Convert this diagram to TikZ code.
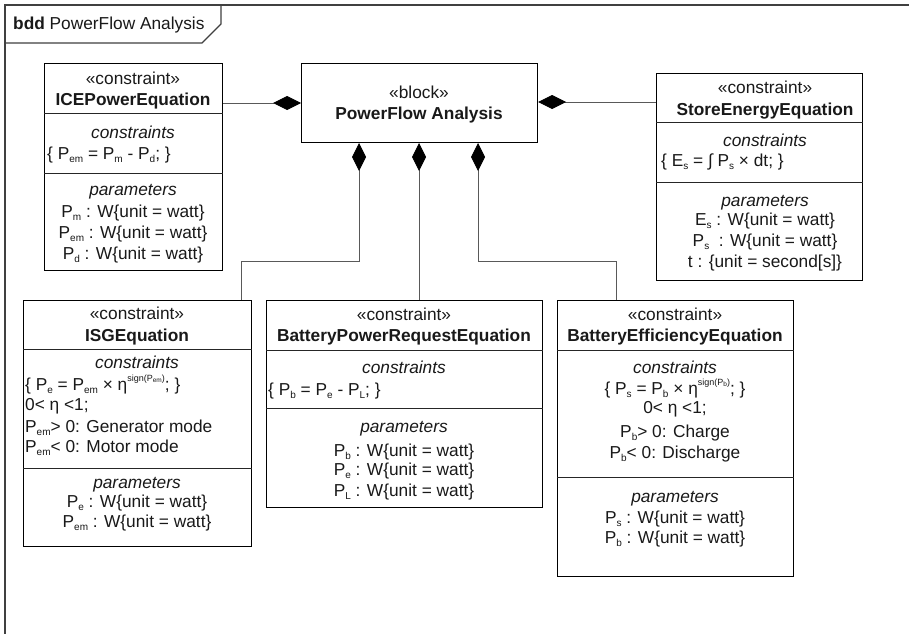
\documentclass[tikz,border=0pt]{standalone}
\usepackage{fontspec}
\setmainfont{Liberation Sans}
\usetikzlibrary{arrows.meta}
\newcommand\dn[1]{\raisebox{-0.35ex}{\fontsize{10}{10}\selectfont #1}}
\newcommand\up[1]{\raisebox{0.95ex}{\fontsize{9}{9}\selectfont #1}}
\newcommand\ddn[1]{\raisebox{-0.3ex}{\fontsize{6.5}{6.5}\selectfont #1}}
\begin{document}
\begin{tikzpicture}[x=1pt,y=-1pt,
  font=\fontsize{17.3}{21}\selectfont,
  box/.style={draw=black, line width=1pt, inner sep=0pt, anchor=north west, fill=white},
  txt/.style={anchor=base, inner sep=0pt, text=black!90},
  ltxt/.style={anchor=base west, inner sep=0pt, text=black!90},
  divider/.style={draw=black!85, line width=0.9pt},
  link/.style={draw=black!65, line width=0.9pt},
  comp/.style={-{Diamond[length=28pt,width=14pt,black]}},
  frame/.style={draw=black!75, line width=1.1pt}]
\useasboundingbox (0,0) rectangle (909,634);
\fill[white] (0,0) rectangle (909,634);
% frame
\draw[frame] (909,5) -- (5,5) -- (5,634);
\draw[frame] (5,43) -- (202,43) -- (221,24) -- (221,5);
\node[ltxt] (title) at (13,30) {\textbf{bdd} PowerFlow Analysis};
% boxes
\node[box, minimum width=178pt, minimum height=207pt] (ice) at (44,63) {};
\node[box, minimum width=236pt, minimum height=79pt] (blk) at (301,63) {};
\node[box, minimum width=206pt, minimum height=207pt] (se) at (656,73) {};
\node[box, minimum width=228pt, minimum height=246pt] (isg) at (23,300) {};
\node[box, minimum width=276pt, minimum height=207pt] (bpr) at (266,300) {};
\node[box, minimum width=236pt, minimum height=276pt] (bee) at (557,300) {};
% dividers
\draw[divider] (ice.west |- 0,113) -- (ice.east |- 0,113);
\draw[divider] (ice.west |- 0,173) -- (ice.east |- 0,173);
\draw[divider] (se.west |- 0,122) -- (se.east |- 0,122);
\draw[divider] (se.west |- 0,182) -- (se.east |- 0,182);
\draw[divider] (isg.west |- 0,349) -- (isg.east |- 0,349);
\draw[divider] (isg.west |- 0,468) -- (isg.east |- 0,468);
\draw[divider] (bpr.west |- 0,350) -- (bpr.east |- 0,350);
\draw[divider] (bpr.west |- 0,408) -- (bpr.east |- 0,408);
\draw[divider] (bee.west |- 0,350) -- (bee.east |- 0,350);
\draw[divider] (bee.west |- 0,477) -- (bee.east |- 0,477);
% connectors
\draw[link,comp] (ice.east |- 0,103) -- (blk.west |- 0,103);
\draw[link,comp] (se.west |- 0,102) -- (blk.east |- 0,102);
\draw[link,comp] (isg.north -| 241,0) -- (241,261) -| (blk.south -| 359,0);
\draw[link,comp] (bpr.north -| 419,0) -- (blk.south -| 419,0);
\draw[link,comp] (bee.north -| 616,0) -- (616,261) -| (blk.south -| 478,0);
% ICE
\node[txt] (ice1) at (133,84) {«constraint»};
\node[txt] (ice2) at (133,105) {\textbf{ICEPowerEquation}};
\node[txt] (ice3) at (133,138) {\textit{constraints}};
\node[ltxt] (ice4) at (47,159) {\{ P\dn{em} = P\dn{m} - P\dn{d}; \}};
\node[txt] (ice5) at (133,195) {\textit{parameters}};
\node[txt] (ice6) at (133,217) {P\dn{m} : W\{unit = watt\}};
\node[txt] (ice7) at (133,238) {P\dn{em} : W\{unit = watt\}};
\node[txt] (ice8) at (133,259) {P\dn{d} : W\{unit = watt\}};
% block
\node[txt] (blk1) at (419,98) {«block»};
\node[txt] (blk2) at (419,119) {\textbf{PowerFlow Analysis}};
% StoreEnergy
\node[txt] (se1) at (765,93) {«constraint»};
\node[txt] (se2) at (765,115) {\textbf{StoreEnergyEquation}};
\node[txt] (se3) at (765,146) {\textit{constraints}};
\node[ltxt] (se4) at (661,166) {\{ E\dn{s} = ∫ P\dn{s} × dt; \}};
\node[txt] (se5) at (765,206) {\textit{parameters}};
\node[txt] (se6) at (765,225) {E\dn{s} : W\{unit = watt\}};
\node[txt] (se7) at (765,246) {P\dn{s} \ : W\{unit = watt\}};
\node[txt] (se8) at (765,267) {t : \{unit = second[s]\}};
% ISG
\node[txt] (isg1) at (137,319) {«constraint»};
\node[txt] (isg2) at (137,341) {\textbf{ISGEquation}};
\node[txt] (isg3) at (137,368) {\textit{constraints}};
\node[ltxt] (isg4) at (25,390) {\{ P\dn{e} = P\dn{em} × η\up{sign(P\ddn{em})}; \}};
\node[ltxt] (isg5) at (25,410) {0< η <1;};
\node[ltxt] (isg6) at (25,432) {P\dn{em}> 0: Generator mode};
\node[ltxt] (isg7) at (25,452) {P\dn{em}< 0: Motor mode};
\node[txt] (isg8) at (137,488) {\textit{parameters}};
\node[txt] (isg9) at (137,507) {P\dn{e} : W\{unit = watt\}};
\node[txt] (isg10) at (137,527) {P\dn{em} : W\{unit = watt\}};
% BPR
\node[txt] (bpr1) at (404,320) {«constraint»};
\node[txt] (bpr2) at (404,341) {\textbf{BatteryPowerRequestEquation}};
\node[txt] (bpr3) at (404,373) {\textit{constraints}};
\node[ltxt] (bpr4) at (268,395) {\{ P\dn{b} = P\dn{e} - P\dn{L}; \}};
\node[txt] (bpr5) at (404,432) {\textit{parameters}};
\node[txt] (bpr6) at (404,456) {P\dn{b} : W\{unit = watt\}};
\node[txt] (bpr7) at (404,475) {P\dn{e} : W\{unit = watt\}};
\node[txt] (bpr8) at (404,496) {P\dn{L} : W\{unit = watt\}};
% BEE
\node[txt] (bee1) at (675,320) {«constraint»};
\node[txt] (bee2) at (675,341) {\textbf{BatteryEfficiencyEquation}};
\node[txt] (bee3) at (675,373) {\textit{constraints}};
\node[txt] (bee4) at (675,394) {\{ P\dn{s} = P\dn{b} × η\up{sign(P\ddn{b})}; \}};
\node[txt] (bee5) at (675,413) {0< η <1;};
\node[txt] (bee6) at (675,437) {P\dn{b}> 0: Charge};
\node[txt] (bee7) at (675,458) {P\dn{b}< 0: Discharge};
\node[txt] (bee8) at (675,502) {\textit{parameters}};
\node[txt] (bee9) at (675,523) {P\dn{s} : W\{unit = watt\}};
\node[txt] (bee10) at (675,543) {P\dn{b} : W\{unit = watt\}};
\end{tikzpicture}
\end{document}
